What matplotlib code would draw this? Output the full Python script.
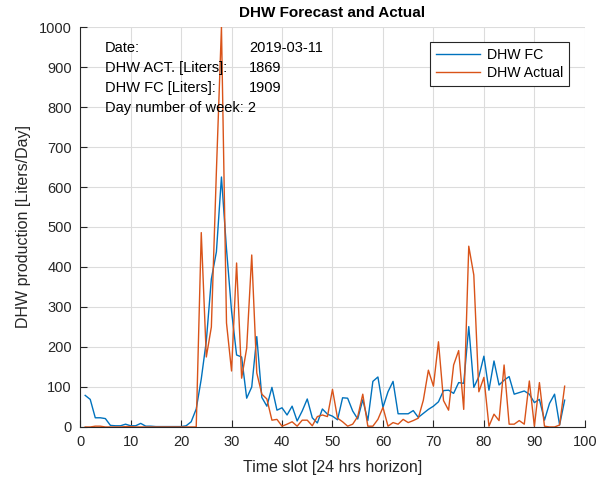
import numpy as np
import matplotlib.pyplot as plt

plt.rcParams['font.family'] = ['Liberation Sans', 'DejaVu Sans']

# time slots 1..96
slots = np.arange(1, 97)

# DHW forecast (blue)
dhw_fc = [79, 69, 23, 23, 21, 4, 3, 3, 7, 3,
          3, 9, 2, 2, 1, 1, 1, 1, 1, 1,
          3, 13, 45, 120, 215, 370, 438, 625, 445, 290,
          180, 175, 72, 100, 226, 74, 52, 99, 42, 48,
          30, 52, 15, 40, 70, 23, 10, 45, 32, 27,
          18, 73, 72, 40, 20, 68, 16, 114, 125, 49,
          88, 114, 33, 33, 33, 41, 24, 34, 44, 52,
          63, 91, 92, 84, 111, 109, 251, 99, 126, 177,
          92, 165, 105, 117, 126, 82, 86, 90, 82, 61,
          69, 17, 59, 82, 5, 67]

# DHW actual (orange)
dhw_act = [0, 0, 2, 2, 0, 0, 0, 0, 1, 1,
           0, 0, 0, 0, 0, 0, 0, 0, 0, 0,
           0, 0, 0, 486, 175, 250, 640, 1000, 260, 140,
           410, 122, 197, 430, 135, 82, 70, 17, 19, 2,
           7, 13, 2, 17, 17, 3, 26, 30, 26, 94,
           22, 13, 2, 7, 26, 82, 2, 2, 19, 49,
           2, 11, 7, 19, 11, 16, 22, 67, 142, 102,
           213, 66, 42, 155, 191, 44, 452, 380, 88, 124,
           2, 32, 16, 155, 7, 7, 16, 7, 115, 2,
           111, 2, 0, 0, 5, 102]

info_labels = ['Date:', 'DHW ACT. [Liters]:', 'DHW FC [Liters]:', 'Day number of week: 2']
info_values = ['2019-03-11', '1869', '1909', '']

fig = plt.figure(figsize=(5.98, 4.79), dpi=100)
ax = fig.add_axes([0.134, 0.1086, 0.844, 0.835])

ax.plot(slots, dhw_fc, color='#0072BD', lw=1.0, label='DHW FC')
ax.plot(slots, dhw_act, color='#D95319', lw=1.0, label='DHW Actual')

ax.set_xlim(0, 100)
ax.set_ylim(0, 1000)
ax.set_xticks(np.arange(0, 101, 10))
ax.set_yticks(np.arange(0, 1001, 100))
ax.grid(True, color='#dcdcdc', lw=0.8)
ax.set_axisbelow(True)
for s in ['top', 'right']:
    ax.spines[s].set_visible(False)
for s in ['left', 'bottom']:
    ax.spines[s].set_color('#262626')
ax.tick_params(direction='in', length=5, labelsize=10.5, colors='#262626')
ax.tick_params(axis='x', pad=6)
ax.tick_params(axis='y', pad=6)

ax.set_title('DHW Forecast and Actual', fontsize=11, fontweight='bold', pad=7)
ax.set_xlabel('Time slot [24 hrs horizon]', fontsize=11.5, color='#262626', labelpad=8)
ax.set_ylabel('DHW production [Liters/Day]', fontsize=11.5, color='#262626', labelpad=6)

# info text block
for i, (lab, val) in enumerate(zip(info_labels, info_values)):
    y = 48 + 20 * i
    fig.text(105 / 598, 1 - y / 479, lab, fontsize=10.5, va='center', ha='left')
    if val:
        fig.text(249 / 598, 1 - y / 479, val, fontsize=10.5, va='center', ha='left')

leg = ax.legend(loc='upper right', bbox_to_anchor=(0.968, 0.9625), borderaxespad=0,
                fontsize=10.2, fancybox=False, framealpha=1, edgecolor='#262626',
                handlelength=3.1, borderpad=0.4, labelspacing=0.3, handletextpad=0.5)
leg.get_frame().set_linewidth(0.8)

fig.savefig('out.png', dpi=100)
